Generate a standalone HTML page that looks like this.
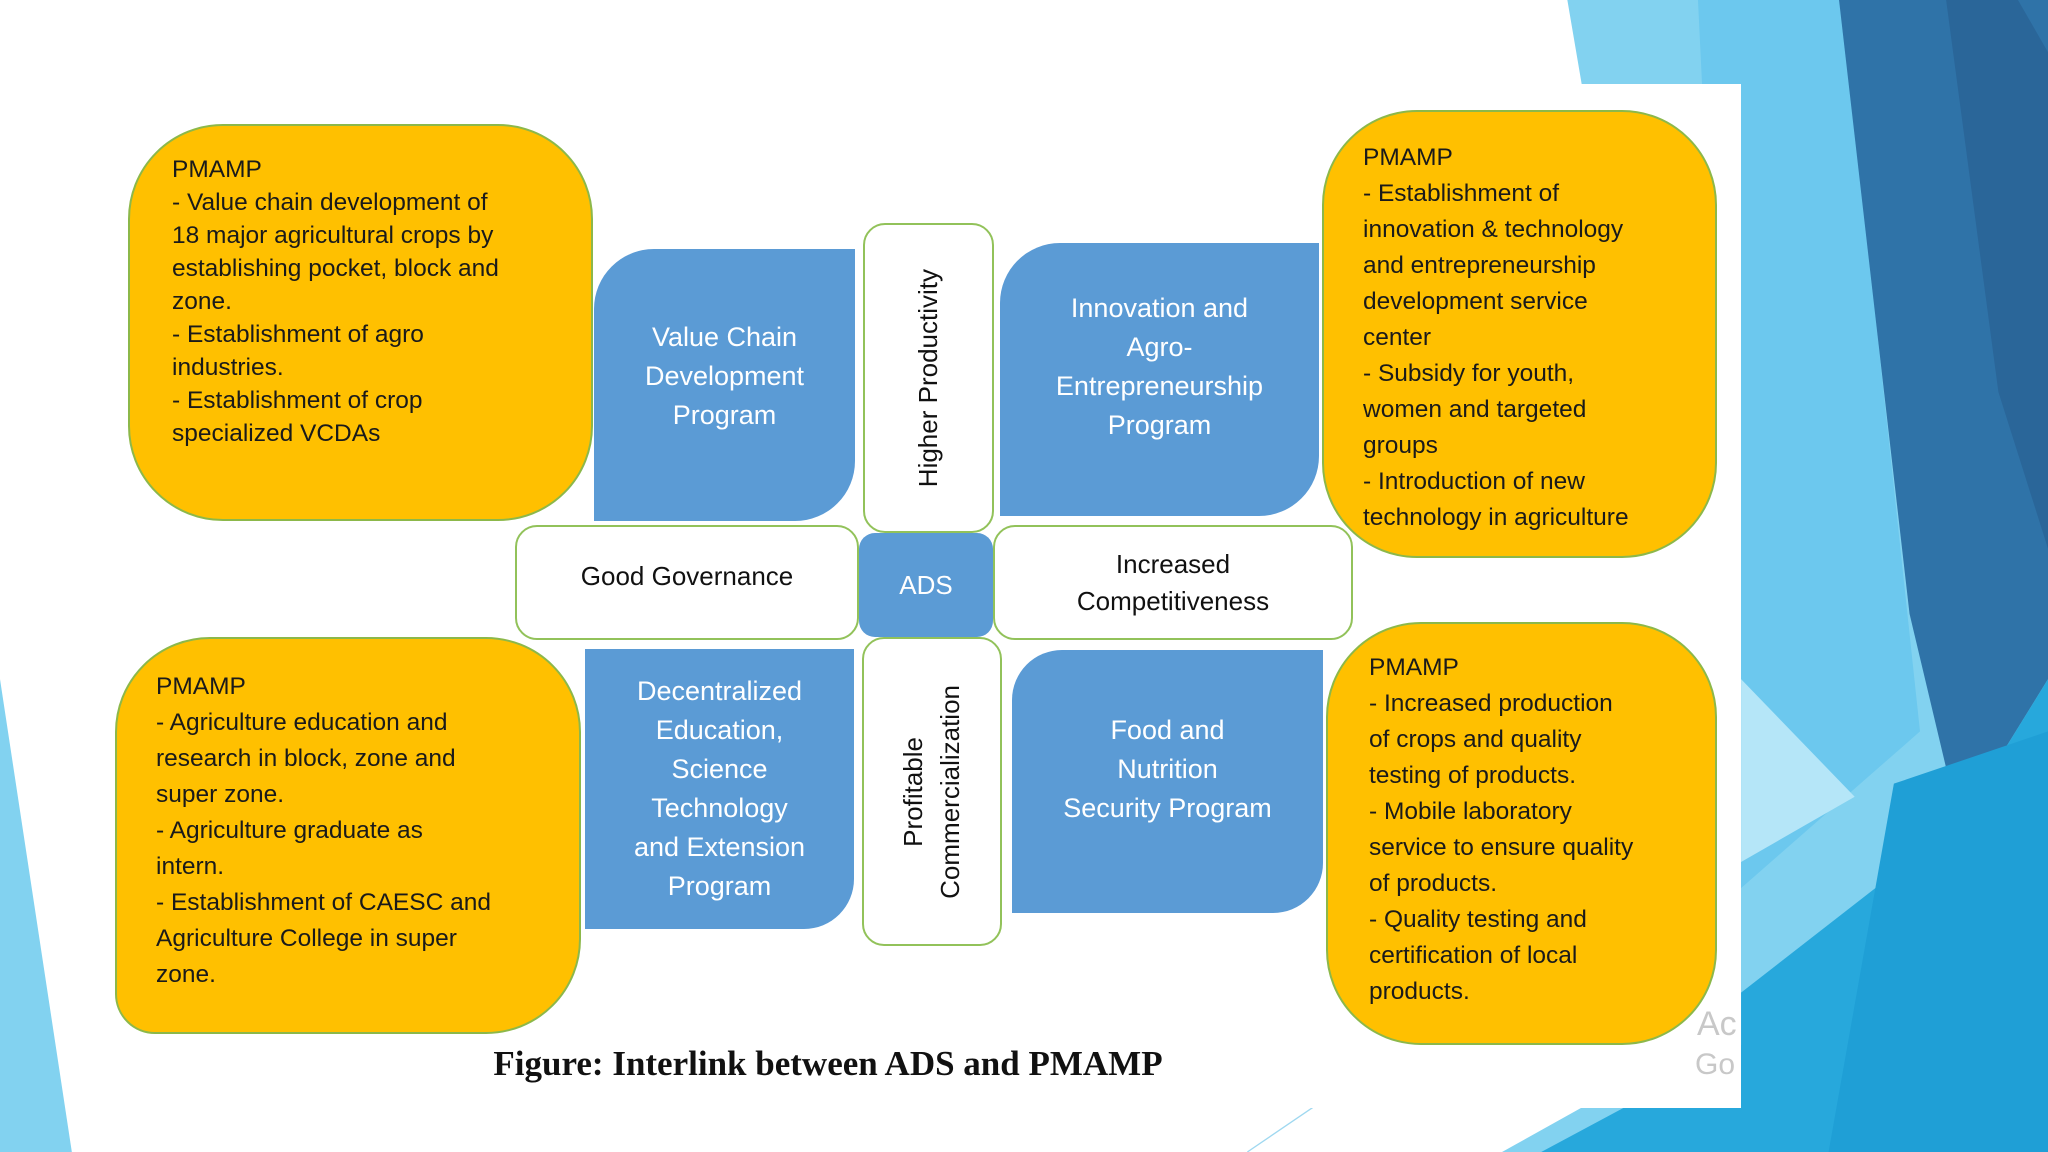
<!DOCTYPE html>
<html><head><meta charset="utf-8"><style>
html,body{margin:0;padding:0;}
body{width:2048px;height:1152px;position:relative;overflow:hidden;background:#fff;font-family:"Liberation Sans",Arial,sans-serif;}
.a{position:absolute;box-sizing:border-box;}
.y{background:#ffc000;border:2px solid #8cb84a;border-radius:95px;overflow:hidden;}
.yt{position:absolute;font-size:24.5px;color:#1a1a1a;white-space:nowrap;}
.b{background:#5b9bd5;color:#fff;display:flex;align-items:center;justify-content:center;text-align:center;font-size:27px;line-height:39px;}
.w{background:#fff;border:2px solid #92c25a;border-radius:22px;display:flex;align-items:center;justify-content:center;text-align:center;font-size:26px;color:#111;line-height:37px;}
.v{writing-mode:vertical-rl;transform:rotate(180deg);}
</style></head><body>
<svg class="a" style="left:0;top:0" width="2048" height="1152" viewBox="0 0 1568 882" preserveAspectRatio="none">
<polygon points="1200,0 1568,0 1568,882 1150,882 1333,780" fill="#82d2f0"/>
<polygon points="1300,0 1410,0 1470,560 1333,680" fill="#6cc8ee"/>
<polygon points="1333,520 1420,610 1333,660" fill="#b5e6f8"/>
<polygon points="1408,0 1568,0 1568,520 1500,630 1462,470" fill="#2f73a8"/>
<polygon points="1490,0 1545,0 1568,40 1568,420 1530,300" fill="#2a6699"/>
<polygon points="1333,760 1500,630 1568,520 1568,882 1180,882 1333,800" fill="#27a8dc"/>
<polygon points="1450,600 1568,560 1568,882 1400,882" fill="#1f9fd6"/>
<line x1="955" y1="882" x2="1005" y2="848" stroke="#9fd8f0" stroke-width="1"/>
</svg>
<div class="a" style="left:0;top:84px;width:1741px;height:1024px;background:#fff;"></div>
<svg class="a" style="left:0;top:0" width="2048" height="1152" viewBox="0 0 1568 882" preserveAspectRatio="none">
<polygon points="0,520 55,882 0,882" fill="#82d2f0"/>
</svg>
<div class="a" style="left:1697px;top:1005px;font-size:34px;color:#c8c8c8;">Ac</div>
<div class="a" style="left:1695px;top:1048px;font-size:30px;color:#c8c8c8;">Go</div>

<div class="a y" style="left:128px;top:124px;width:465px;height:397px;"></div>
<div class="yt" style="left:172px;top:153px;line-height:33px;">PMAMP<br>- Value chain development of<br>18 major agricultural crops by<br>establishing pocket, block and<br>zone.<br>- Establishment of agro<br>industries.<br>- Establishment of crop<br>specialized VCDAs</div>

<div class="a y" style="left:1322px;top:110px;width:395px;height:448px;">
<div class="yt" style="left:39px;top:28px;line-height:36px;">PMAMP<br>- Establishment of<br>innovation &amp; technology<br>and entrepreneurship<br>development service<br>center<br>- Subsidy for youth,<br>women and targeted<br>groups<br>- Introduction of new<br>technology in agriculture</div></div>

<div class="a y" style="left:115px;top:637px;width:466px;height:397px;border-radius:95px 95px 95px 40px;">
<div class="yt" style="left:39px;top:30px;line-height:36px;">PMAMP<br>- Agriculture education and<br>research in block, zone and<br>super zone.<br>- Agriculture graduate as<br>intern.<br>- Establishment of CAESC and<br>Agriculture College in super<br>zone.</div></div>

<div class="a y" style="left:1326px;top:622px;width:391px;height:423px;">
<div class="yt" style="left:41px;top:26px;line-height:36px;">PMAMP<br>- Increased production<br>of crops and quality<br>testing of products.<br>- Mobile laboratory<br>service to ensure quality<br>of products.<br>- Quality testing and<br>certification of local<br>products.</div></div>

<div class="a b" style="left:594px;top:249px;width:261px;height:272px;border-radius:60px 0 60px 0;padding-bottom:18px;">Value Chain<br>Development<br>Program</div>
<div class="a b" style="left:1000px;top:243px;width:319px;height:273px;border-radius:60px 0 60px 0;padding-bottom:26px;">Innovation and<br>Agro-<br>Entrepreneurship<br>Program</div>
<div class="a b" style="left:585px;top:649px;width:269px;height:280px;border-radius:0 0 50px 0;">Decentralized<br>Education,<br>Science<br>Technology<br>and Extension<br>Program</div>
<div class="a b" style="left:1012px;top:650px;width:311px;height:263px;border-radius:50px 0 50px 0;padding-bottom:24px;">Food and<br>Nutrition<br>Security Program</div>

<div class="a w" style="left:515px;top:525px;width:344px;height:115px;padding-bottom:12px;">Good Governance</div>
<div class="a w" style="left:993px;top:525px;width:360px;height:115px;">Increased<br>Competitiveness</div>
<div class="a w" style="left:863px;top:223px;width:131px;height:310px;"><div class="v">Higher Productivity</div></div>
<div class="a w" style="left:862px;top:637px;width:140px;height:309px;"><div class="v">Profitable<br>Commercialization</div></div>
<div class="a" style="left:859px;top:533px;width:134px;height:104px;background:#5b9bd5;border-radius:16px;color:#fff;font-size:26px;display:flex;align-items:center;justify-content:center;">ADS</div>

<div class="a" style="left:0;top:1044px;width:1656px;text-align:center;font-family:'Liberation Serif',serif;font-weight:bold;font-size:35px;color:#111;">Figure: Interlink between ADS and PMAMP</div>
</body></html>
